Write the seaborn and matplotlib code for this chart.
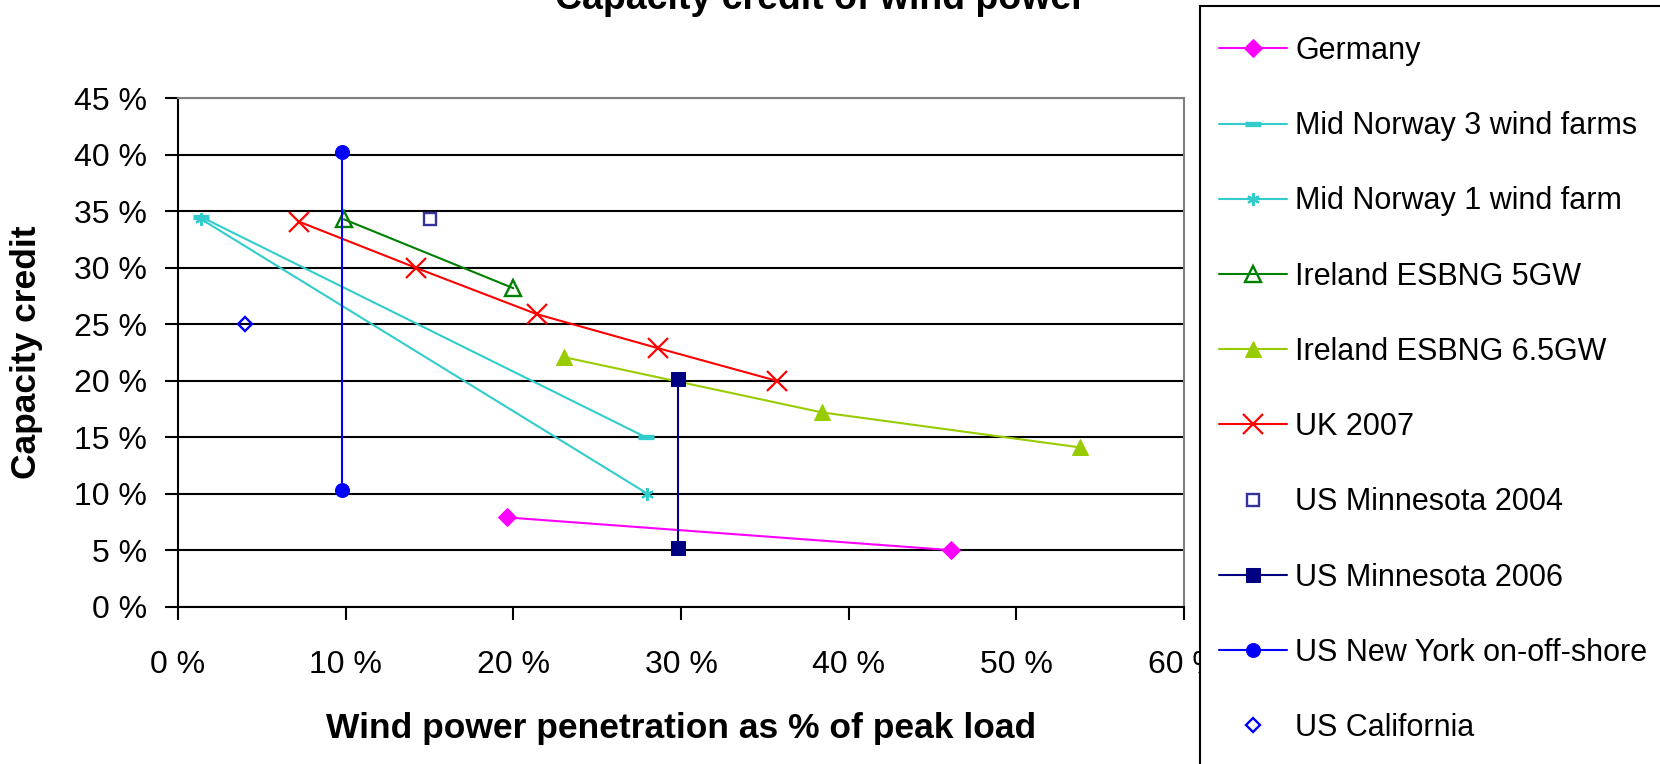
import matplotlib
matplotlib.use("Agg")
import matplotlib.pyplot as plt
import seaborn as sns
import pandas as pd
from matplotlib.patches import Rectangle

# ---------------- data ----------------
germany_x = [19.6, 46.1]
germany_y = [7.9, 5.0]
norway3_x = [1.4, 27.9]
norway3_y = [34.5, 15.0]
norway1_x = [1.4, 28.0]
norway1_y = [34.3, 10.0]
ireland5_x = [9.9, 20.0]
ireland5_y = [34.3, 28.2]
ireland65_x = [23.0, 38.4, 53.8]
ireland65_y = [22.1, 17.2, 14.1]
uk_x = [7.2, 14.2, 21.4, 28.6, 35.7]
uk_y = [34.1, 30.0, 25.9, 22.9, 20.0]
minn2004_x = [15.0]
minn2004_y = [34.3]
minn2006_x = [29.8, 29.8]
minn2006_y = [20.2, 5.2]
newyork_x = [9.8, 9.8]
newyork_y = [40.3, 10.3]
california_x = [4.0]
california_y = [25.0]

xticks = [0, 10, 20, 30, 40, 50, 60]
xtick_labels = ["0 %", "10 %", "20 %", "30 %", "40 %", "50 %", "60 %"]
yticks = [0, 5, 10, 15, 20, 25, 30, 35, 40, 45]
ytick_labels = ["0 %", "5 %", "10 %", "15 %", "20 %", "25 %", "30 %", "35 %", "40 %", "45 %"]

title = "Capacity credit of wind power"
xlabel = "Wind power penetration as % of peak load"
ylabel = "Capacity credit"

# ---------------- style ----------------
series = [
    ("Germany", germany_x, germany_y,
     dict(color="#FF00FF", marker="D", ms=9, mfc="#FF00FF", mec="#FF00FF", lw=1.5)),
    ("Mid Norway 3 wind farms", norway3_x, norway3_y,
     dict(color="#33CCCC", marker="_", ms=11, mew=3.8, mec="#33CCCC", lw=1.5)),
    ("Mid Norway 1 wind farm", norway1_x, norway1_y,
     dict(color="#33CCCC", marker=(6, 2, 0), ms=9, mew=1.6, mec="#33CCCC", lw=1.5)),
    ("Ireland ESBNG 5GW", ireland5_x, ireland5_y,
     dict(color="#008000", marker="^", ms=11, mfc="none", mec="#008000", mew=1.7, lw=1.5)),
    ("Ireland ESBNG 6.5GW", ireland65_x, ireland65_y,
     dict(color="#99CC00", marker="^", ms=11, mfc="#99CC00", mec="#99CC00", lw=1.5)),
    ("UK 2007", uk_x, uk_y,
     dict(color="#FF0000", marker="x", ms=15, mew=1.6, mec="#FF0000", lw=1.5)),
    ("US Minnesota 2004", minn2004_x, minn2004_y,
     dict(color="#333399", marker="s", ms=9, mfc="none", mec="#333399", mew=1.7, ls="none")),
    ("US Minnesota 2006", minn2006_x, minn2006_y,
     dict(color="#000080", marker="s", ms=9.5, mfc="#000080", mec="#000080", lw=1.5)),
    ("US New York on-off-shore", newyork_x, newyork_y,
     dict(color="#0000FF", marker="o", ms=10, mfc="#0000FF", mec="#0000FF", lw=1.5)),
    ("US California", california_x, california_y,
     dict(color="#0000FF", marker="D", ms=7, mfc="none", mec="#0000FF", mew=1.7, ls="none")),
]

sns.set_theme(style="white")
plt.rcParams["font.family"] = ["Liberation Sans", "DejaVu Sans"]
plt.rcParams["text.color"] = "black"
plt.rcParams["axes.labelcolor"] = "black"

W, H = 1660, 764
fig = plt.figure(figsize=(W / 100, H / 100), dpi=100)
ax_left, ax_right, ax_top, ax_bottom = 178, 1184, 98.5, 606.6
ax = fig.add_axes([ax_left / W, 1 - ax_bottom / H,
                   (ax_right - ax_left) / W, (ax_bottom - ax_top) / H])

for label, xs, ys, st in series:
    df = pd.DataFrame({"x": xs, "y": ys})
    sns.lineplot(data=df, x="x", y="y", ax=ax, estimator=None, sort=False,
                 legend=False, label=label, **st)

ax.set_xlim(0, 60)
ax.set_ylim(0, 45)
ax.set_xticks(xticks)
ax.set_xticklabels(xtick_labels)
ax.set_yticks(yticks)
ax.set_yticklabels(ytick_labels)
ax.tick_params(axis="both", labelsize=23, colors="black")
ax.tick_params(axis="y", direction="out", length=9.4, width=1.5, pad=13, left=True)
ax.tick_params(axis="x", direction="out", length=9, width=1.5, pad=22, bottom=True)

ax.yaxis.grid(True, color="black", lw=1.5)
ax.xaxis.grid(False)
ax.set_axisbelow(True)
for s in ["left", "bottom"]:
    ax.spines[s].set_color("black")
    ax.spines[s].set_linewidth(1.5)
for s in ["top", "right"]:
    ax.spines[s].set_color("#808080")
    ax.spines[s].set_linewidth(1.5)

ax.set_xlabel(xlabel, fontsize=25.5, fontweight="bold", color="black")
ax.xaxis.set_label_coords(0.5, -0.207)
ax.set_ylabel(ylabel, fontsize=25.5, fontweight="bold", color="black")
ax.yaxis.set_label_coords(-0.134, 0.5)

fig.text(820 / W, 1 - 9 / H, title, ha="center", va="baseline",
         fontsize=27, fontweight="bold", color="black")

# legend box (extends beyond the figure edge, covering the "60 %" label partly)
box = Rectangle((1200 / W, -0.1), 1.0, 1 - 6 / H + 0.1, transform=fig.transFigure,
                facecolor="white", edgecolor="black", lw=1.5, zorder=10)
fig.add_artist(box)

handles, labels = ax.get_legend_handles_labels()
leg = fig.legend(handles, labels, loc="upper left",
                 bbox_to_anchor=(1219 / W, 1 - 36 / H),
                 frameon=False, fontsize=22, borderpad=0, borderaxespad=0,
                 handlelength=2.23, handletextpad=0.26, labelspacing=1.48,
                 numpoints=1)
for t in leg.get_texts():
    t.set_color("black")
leg.set_zorder(11)

fig.savefig("out.png", dpi=100)
